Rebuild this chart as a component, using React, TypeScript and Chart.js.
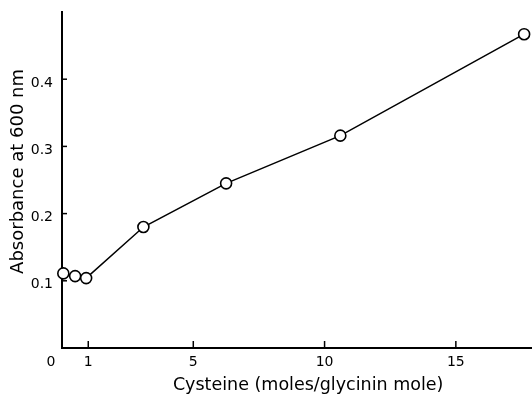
import React, { useEffect, useRef } from "react";
import { Chart, registerables } from "chart.js";

Chart.register(...registerables);

const cysteine = [0.05, 0.5, 0.92, 3.1, 6.25, 10.6, 17.6];
const absorbance = [0.111, 0.107, 0.104, 0.18, 0.245, 0.316, 0.467];
const xTickValues = [0, 1, 5, 10, 15];
const yTickValues = [0.1, 0.2, 0.3, 0.4];
const xTitle = "\u00a0\u00a0\u00a0\u00a0Cysteine (moles/glycinin mole)";
const yTitle = "\u00a0\u00a0\u00a0Absorbance at 600 nm";

const FONT = "'DejaVu Sans', 'Liberation Sans', sans-serif";

const inwardTicks = {
  id: "inwardTicks",
  afterDatasetsDraw(chart: any) {
    const { ctx, chartArea, scales } = chart;
    ctx.save();
    ctx.strokeStyle = "#000";
    ctx.lineWidth = 1.5;
    for (const v of yTickValues) {
      const y = scales.y.getPixelForValue(v);
      ctx.beginPath();
      ctx.moveTo(chartArea.left, y);
      ctx.lineTo(chartArea.left + 5, y);
      ctx.stroke();
    }
    for (const v of xTickValues) {
      if (v === 0) continue;
      const x = scales.x.getPixelForValue(v);
      ctx.beginPath();
      ctx.moveTo(x, chartArea.bottom);
      ctx.lineTo(x, chartArea.bottom - 7);
      ctx.stroke();
    }
    ctx.restore();
  },
};

export default function App() {
  const ref = useRef<HTMLCanvasElement | null>(null);
  useEffect(() => {
    if (!ref.current) return;
    const chart = new Chart(ref.current, {
      type: "scatter",
      data: {
        datasets: [
          {
            data: cysteine.map((x, i) => ({ x, y: absorbance[i] })),
            showLine: true,
            borderColor: "#000",
            borderWidth: 1.5,
            pointRadius: 5.5,
            pointBackgroundColor: "#fff",
            pointBorderColor: "#000",
            pointBorderWidth: 1.6,
            clip: false,
          },
        ],
      },
      options: {
        responsive: false,
        animation: false,
        layout: { autoPadding: false, padding: { top: 12, right: 0, left: 0, bottom: 0 } },
        plugins: { legend: { display: false }, tooltip: { enabled: false } },
        scales: {
          x: {
            type: "linear",
            min: 0,
            max: 17.9,
            afterBuildTicks: (s: any) => {
              s.ticks = xTickValues.map((value) => ({ value }));
            },
            afterFit: (s: any) => {
              s.height = 48;
              s.paddingLeft = 0;
              s.paddingRight = 0;
            },
            ticks: {
              color: "#000",
              font: { family: FONT, size: 14 },
              padding: 6,
              maxRotation: 0,
              autoSkip: false,
              callback: (v: any) => (Number(v) === 0 ? "0     " : String(v)),
            },
            grid: { display: false, drawTicks: false },
            border: { display: true, color: "#000", width: 2 },
            title: {
              display: true,
              text: xTitle,
              color: "#000",
              font: { family: FONT, size: 17.5 },
              padding: { top: 0, bottom: 0 },
            },
          },
          y: {
            type: "linear",
            min: 0,
            max: 0.5,
            afterBuildTicks: (s: any) => {
              s.ticks = yTickValues.map((value) => ({ value }));
            },
            afterFit: (s: any) => {
              s.width = 62;
              s.paddingTop = 0;
              s.paddingBottom = 0;
            },
            ticks: {
              color: "#000",
              font: { family: FONT, size: 14 },
              padding: 9,
              labelOffset: 4,
              autoSkip: false,
              callback: (v: any) => Number(v).toFixed(1),
            },
            grid: { display: false, drawTicks: false },
            border: { display: true, color: "#000", width: 2 },
            title: {
              display: true,
              text: yTitle,
              color: "#000",
              font: { family: FONT, size: 18 },
              padding: { top: 8, bottom: 0 },
            },
          },
        },
      },
      plugins: [inwardTicks],
    } as any);
    return () => chart.destroy();
  }, []);
  return (
    <div style={{ position: "fixed", left: 0, top: 0, width: 532, height: 396, background: "#fff" }}>
      <canvas ref={ref} width={532} height={396} />
    </div>
  );
}
